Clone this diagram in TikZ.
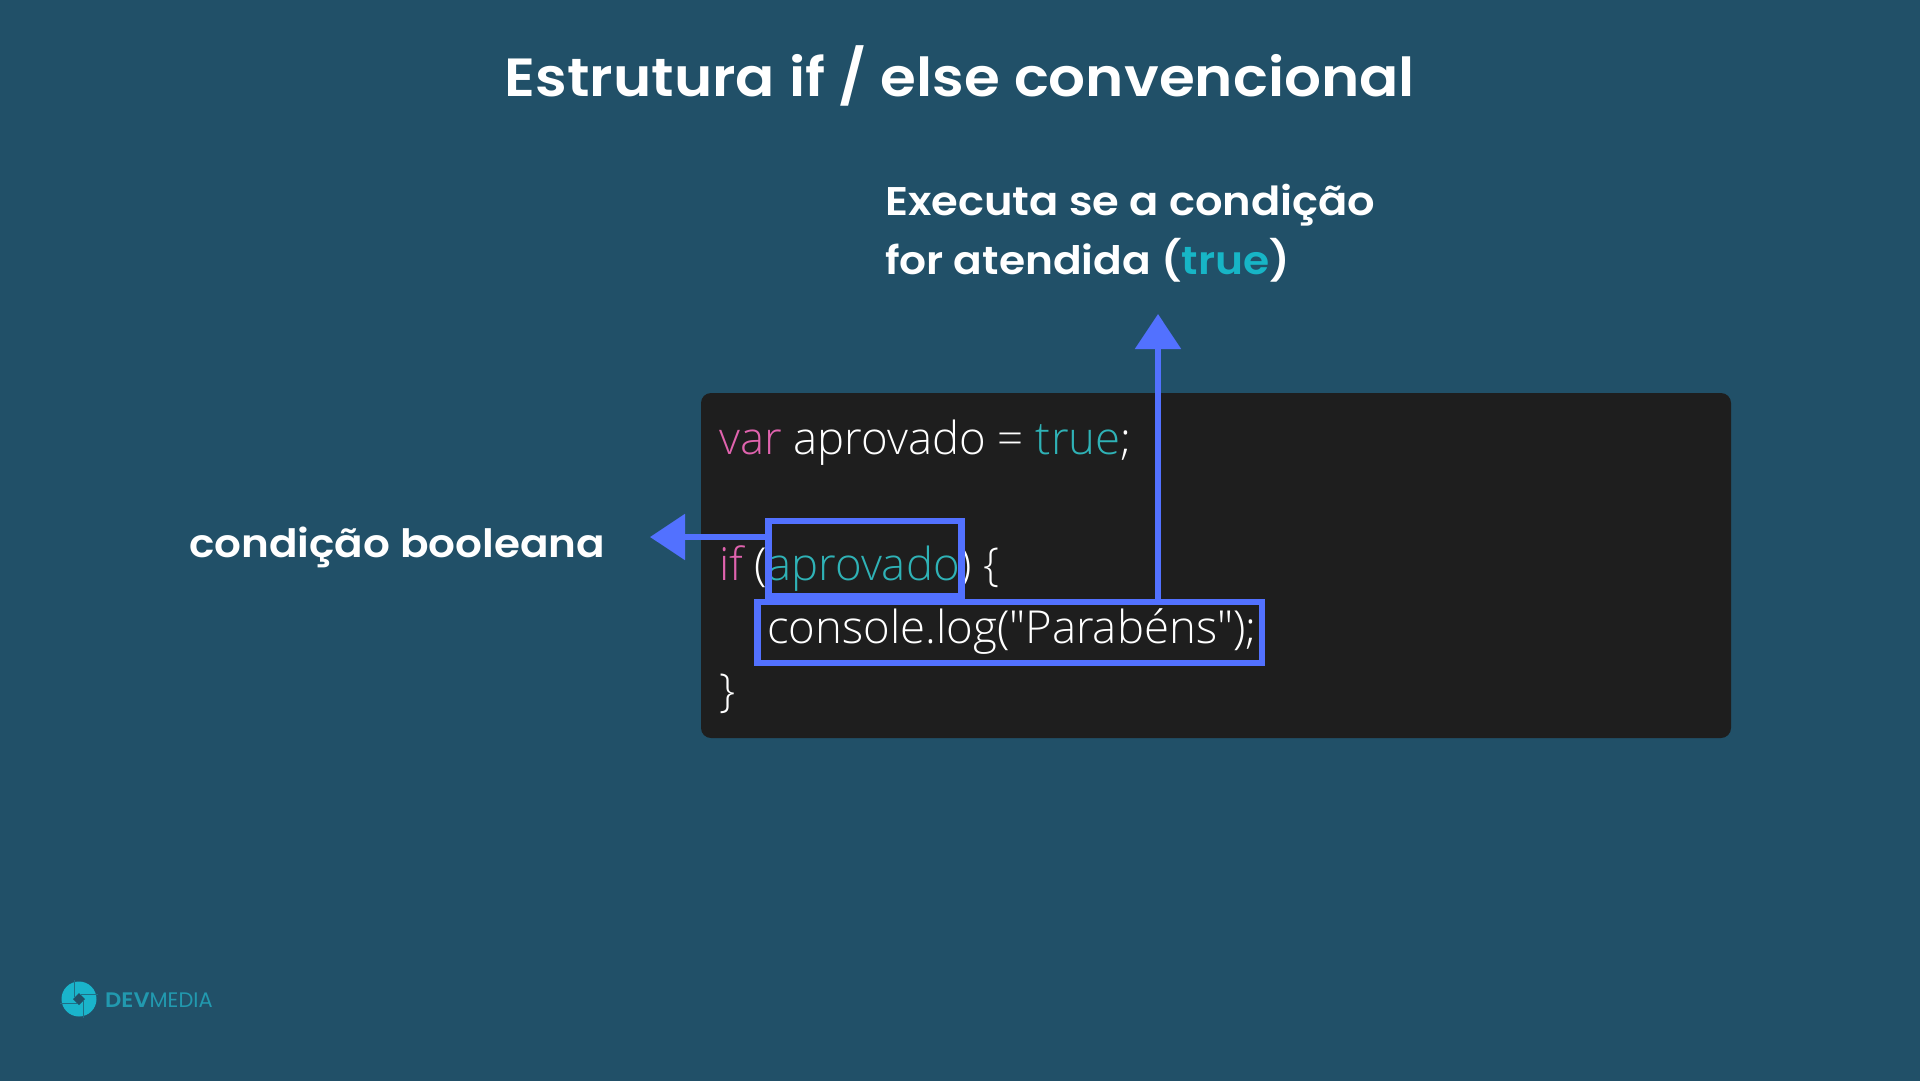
\documentclass[tikz,border=0pt]{standalone}
\usepackage{fontspec}
\usetikzlibrary{arrows.meta}
\setmainfont{Poppins}[BoldFont=Poppins SemiBold,BoldFeatures={FakeStretch=1.08}]
\newfontfamily\codefont{Open Sans Light}
\definecolor{slidebg}{HTML}{215068}
\definecolor{panelbg}{HTML}{1E1E1E}
\definecolor{markblue}{HTML}{5271FF}
\definecolor{trueteal}{HTML}{17B5C6}
\definecolor{codeteal}{HTML}{2FB2B6}
\definecolor{codepink}{HTML}{E063AE}
\definecolor{logoteal}{HTML}{1AB4CB}
\definecolor{logotext}{HTML}{2299AF}
\tikzset{
    txt/.style={anchor=base west,inner sep=0pt,text=white},
    label/.style={txt,font=\fontsize{40}{40}\selectfont\bfseries},
    code/.style={txt,font=\fontsize{45.5}{45.5}\selectfont\codefont},
    markbox/.style={draw=markblue,line width=6.5pt,inner sep=0pt},
    markline/.style={draw=markblue,line width=5.5pt,-{Triangle[length=35pt,width=45pt]}}
}
\begin{document}
\begin{tikzpicture}[x=1pt,y=-1pt]
        \useasboundingbox (0,0) rectangle (1920,1080);
        \fill[slidebg] (-2,-2) rectangle (1922,1082);

        % Title
        \node (title) at (960,96) [txt,anchor=base,font=\fontsize{53.7}{53.7}\selectfont\bfseries] {Estrutura if / else convencional};

        % Labels
        \node (exec1) at (885,215) [label] {Executa se a condição};
        \node (exec2) at (885,274) [label,font=\fontsize{39.2}{39.2}\selectfont\bfseries] {for atendida (\textcolor{trueteal}{true})};
        \node (cond) at (189,557) [label,font=\fontsize{39}{39}\selectfont\bfseries] {condição booleana};

        % Code
        \fill[panelbg,rounded corners=10pt] (701,393) rectangle (1731,738);
        \node (line1) at (719,454) [code] {\textcolor{codepink}{var} aprovado = \textcolor{codeteal}{true};};
        \node (line2) at (719,580) [code] {\textcolor{codepink}{if} (\textcolor{codeteal}{aprovado}) \{};
        \node (line3) at (767,643) [code] {console.log("Parabéns");};
        \node (line4) at (719,706) [code] {\}};

        % Marks
        \node (boxcond) at (865,558.5) [markbox,minimum width=193pt,minimum height=75pt] {};
        \node (boxlog) at (1009.75,632.5) [markbox,minimum width=504.5pt,minimum height=61pt] {};
        \coordinate (tipup) at (1158,314);
        \coordinate (tipleft) at (650,537);
        \draw[markline] (boxlog.north -| tipup)--(tipup);
        \draw[markline] (boxcond.west |- tipleft)--(tipleft);

        % Logo
        \fill[logoteal] (79,999) circle (17.5);
        \foreach \a in {20,110,200,290} \draw[slidebg!70!logoteal,line width=1.5pt] (\a:5)++(79,999)--++(\a+70:17);
        \fill[slidebg] (79,993) -- (85,999) -- (79,1005) -- (73,999) -- cycle;
        \node (logo) at (105,1007) [txt,text=logotext,font=\fontsize{21}{21}\selectfont] {\textbf{DEV}MEDIA};
    \end{tikzpicture}
\end{document}
